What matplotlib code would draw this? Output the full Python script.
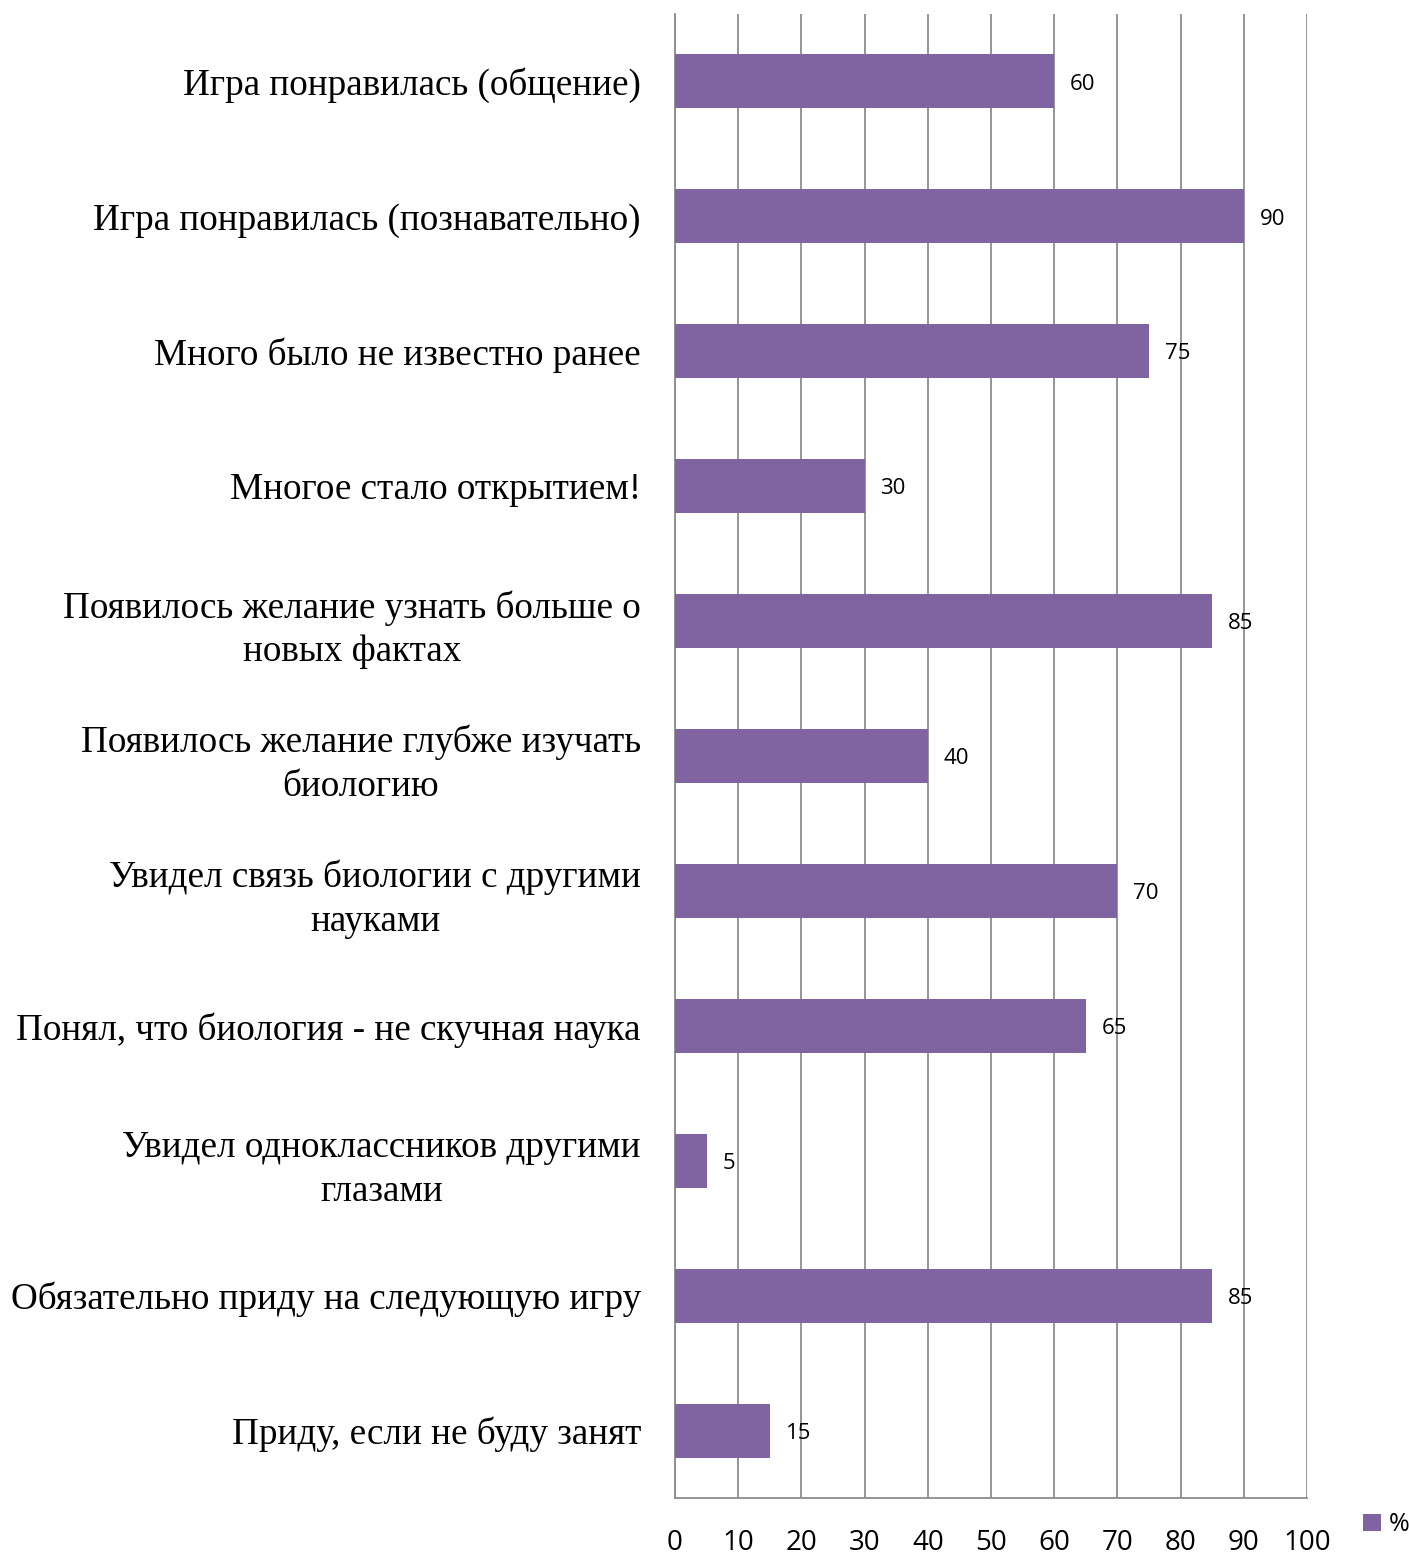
import numpy as np
import matplotlib.pyplot as plt

# Данные
categories = [
    'Игра понравилась (общение)',
    'Игра понравилась (познавательно)',
    'Много было не известно ранее',
    'Многое стало открытием!',
    'Появилось желание узнать больше о\nновых фактах',
    'Появилось желание глубже изучать\nбиологию',
    'Увидел связь биологии с другими\nнауками',
    'Понял, что биология - не скучная наука',
    'Увидел одноклассников другими\nглазами',
    'Обязательно приду на следующую игру',
    'Приду, если не буду занят',
]
values = [60, 90, 75, 30, 85, 40, 70, 65, 5, 85, 15]
ticks = [0, 10, 20, 30, 40, 50, 60, 70, 80, 90, 100]
series_name = '%'

bar_color = '#8064A2'
grid_color = '#8c8c8c'
num_font = ['Open Sans', 'DejaVu Sans']

fig = plt.figure(figsize=(14.09, 15.55), dpi=100)
ax = fig.add_axes([675 / 1409, 1 - 1498 / 1555, 632 / 1409, 1484 / 1555])

y = np.arange(len(categories))
bars = ax.barh(y, values, height=0.4, color=bar_color, label=series_name, zorder=3)

ax.set_xlim(0, 100)
ax.set_ylim(len(categories) - 0.5, -0.5)
ax.set_xticks(ticks)
ax.set_xticklabels([str(t) for t in ticks], fontsize=20, family=num_font)
ax.tick_params(axis='x', length=0, pad=22)
ax.tick_params(axis='y', length=0, pad=24.5)
ax.set_yticks(y)
ax.set_yticklabels(categories, fontsize=26.7, family=['Liberation Serif', 'DejaVu Serif'],
                   linespacing=1.35, ha='right', multialignment='center')

ax.xaxis.grid(True, color=grid_color, linewidth=1.3, zorder=0)
ax.yaxis.grid(False)
for s in ['top', 'right']:
    ax.spines[s].set_visible(False)
ax.spines['left'].set_color(grid_color)
ax.spines['bottom'].set_color(grid_color)
ax.spines['left'].set_linewidth(1.3)
ax.spines['bottom'].set_linewidth(1.3)

# Подписи значений
for yi, v in zip(y, values):
    ax.text(v + 2.5, yi + 0.02, str(v), va='center', ha='left', fontsize=16, family=num_font)

fig.legend(loc='lower right', bbox_to_anchor=(1.016, -0.003), frameon=False,
           handlelength=0.7, handleheight=0.7, handletextpad=0.3,
           prop={'family': num_font, 'size': 18})

fig.savefig('out.png', dpi=100)
